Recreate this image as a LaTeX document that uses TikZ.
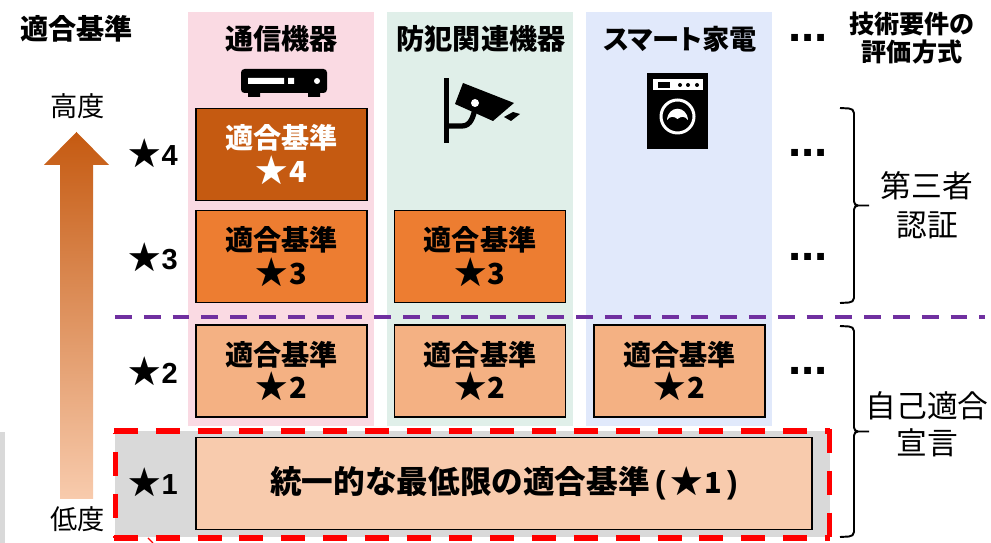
\documentclass[tikz,border=0pt]{standalone}
\usepackage{fontspec}
\setmainfont{Liberation Sans}
\newfontfamily\cjk{Noto Sans CJK JP}
\definecolor{pinkcol}{HTML}{FADAE3}
\definecolor{greencol}{HTML}{E0EFE9}
\definecolor{bluecol}{HTML}{E1E9FB}
\definecolor{levelfour}{HTML}{C55A11}
\definecolor{levelthree}{HTML}{ED7D31}
\definecolor{leveltwo}{HTML}{F4B183}
\definecolor{levelone}{HTML}{F8CBAD}
\definecolor{graypanel}{HTML}{D9D9D9}
\definecolor{purpleline}{HTML}{7030A0}
\newcommand{\lvl}[1]{{\cjk\fontsize{18.5}{19.3}\selectfont ★}{\fontsize{16.5}{19.3}\selectfont\hspace{0.5pt}#1}}
\tikzset{
	boldtext/.style={inner sep=0pt,font=\fontsize{16}{19.3}\selectfont\bfseries\cjk,align=center},
	plaintext/.style={inner sep=0pt,font=\fontsize{17.5}{22}\selectfont\cjk,align=center},
	levelbox/.style={draw=black,line width=1.1pt,inner sep=0pt,minimum width=3.42cm,minimum height=1.84cm,
		font=\fontsize{16}{19.3}\selectfont\bfseries\cjk,align=center},
	leveltag/.style={inner sep=0pt,font=\fontsize{16}{19.3}\selectfont\bfseries},
	moredots/.style={inner sep=0pt,font=\fontsize{27}{27}\selectfont\bfseries},
	reddash/.style={red,line width=3.1pt,dash pattern=on 13.6pt off 10.2pt}
}
\begin{document}
\begin{tikzpicture}[x=0.02cm,y=-0.02cm]
	\useasboundingbox (0,0) rectangle (991,543);
	% columns
	\foreach \x/\c in {188/pinkcol,387/greencol,586/bluecol}
		\fill[\c] (\x,12) rectangle (\x+186,426);
	% grey band
	\fill[graypanel] (0,432) rectangle (5,543);
	\fill[graypanel] (115,431) rectangle (830,537);
	% height arrow
	\shade[top color=levelfour,bottom color=levelone] (76.5,132) -- (109,165) -- (93,165) -- (93,499) -- (60,499) -- (60,165) -- (44,165) -- cycle;
	\node[plaintext,font=\fontsize{15.5}{19}\selectfont\cjk] (high) at (77.5,106) {高度};
	\node[plaintext,font=\fontsize{15.5}{19}\selectfont\cjk] (low) at (77.5,519) {低度};
	\node[boldtext] (title) at (76.5,29) {適合基準};
	% column heads
	\node[boldtext] (comm) at (281.5,39) {通信機器};
	\node[boldtext] (sec) at (481,39) {防犯関連機器};
	\node[boldtext,font=\fontsize{15.5}{19.3}\selectfont\bfseries\cjk\addfontfeature{RawFeature=+palt}] (home) at (680,39) {スマート家電};
	\node[boldtext,font=\fontsize{14.3}{16.4}\selectfont\bfseries\cjk] (method) at (912,38) {技術要件の\\評価方式};
	% level tags
	\foreach \n/\y in {4/153,3/257,2/371,1/482}
		\node[leveltag] (tag\n) at (153,\y) {\lvl{\n}};
	% level boxes
	\node[levelbox,fill=levelfour,text=white] (c4) at (281.5,154.5) {適合基準\\\lvl{4}};
	\node[levelbox,fill=levelthree] (c3) at (281.5,256.5) {適合基準\\\lvl{3}};
	\node[levelbox,fill=levelthree] (s3) at (480,256.5) {適合基準\\\lvl{3}};
	\foreach \x/\m in {281.5/c2,480/s2,679.5/h2}
		\node[levelbox,fill=leveltwo] (\m) at (\x,371) {適合基準\\\lvl{2}};
	\node[levelbox,fill=levelone,minimum width=12.32cm,font=\fontsize{18}{20}\selectfont\bfseries\cjk] (all) at (504,483.5) {統一的な最低限の適合基準{\rmfamily\bfseries\,(\,}\lvl{1}{\rmfamily\bfseries\,)}};
	% dots
	\foreach \y in {38,153,257,371}
		\node[moredots] (dots\y) at (808,\y) {...};
	% separators
	\draw[purpleline,line width=2.2pt,dash pattern=on 9.6pt off 6.8pt] (115,317) -- (985,317);
	\draw[reddash] (114,431) -- (830,431) (114,538) -- (830,538) (829.5,429) -- (829.5,540);
	\draw[reddash,dash phase=13pt] (115.5,433) -- (115.5,538);
	\draw[red,line width=0.8pt] (148,538) -- (153,543);
	% braces
	\foreach \t/\b/\n in {108/303/up,326/537/down} {
		\coordinate (\n a) at (840,\t);
		\coordinate (\n b) at (840,\b);
		\coordinate (\n m) at (869,{(\t+\b)/2});
		\draw[line width=1.1pt] (\n a) -- (849,\t+0.5) to[out=0,in=90] (854,\t+5) -- (854,{(\t+\b)/2-4}) to[out=-90,in=180] (858,{(\t+\b)/2}) -- (\n m)
			(858,{(\t+\b)/2}) to[out=180,in=90] (854,{(\t+\b)/2+4}) -- (854,\b-5) to[out=-90,in=0] (849,\b-0.5) -- (\n b);
	}
	\node[plaintext] (third) at (927,205) {第三者\\認証};
	\node[plaintext,font=\fontsize{17.5}{21}\selectfont\cjk] (self) at (927,424) {自己適合\\宣言};
	% router icon
	\fill[black,rounded corners=2pt] (241,69) rectangle (327,93);
	\fill[black] (248,90) rectangle (260,97) (308,90) rectangle (320,97);
	\fill[white] (248,78) rectangle (284,84) (288,78) rectangle (294,84) (317,81) circle (3);
	% camera icon
	\fill[black] (444,78) rectangle (449,143);
	\fill[black] (463,83) -- (514,103) -- (493,121) -- (455,104) -- cycle;
	\fill[black] (513,112) -- (520,114) -- (511,121) -- (504,117) -- cycle;
	\draw[black,line width=3pt] (449,126) -- (462,126) to[out=0,in=-100] (475,108);
	\fill[white] (475,103) circle (4);
	% washer icon
	\fill[black] (647,73) rectangle (708,149);
	\fill[white] (653,79) rectangle (703,90);
	\fill[black] (658,82) rectangle (670,88);
	\foreach \x in {680,688,697}
		\fill[black] (\x,85) circle (2);
	\draw[white,line width=1.7pt] (677.5,116.5) circle (16.5);
	\fill[white] (667,120) .. controls (668,105) and (687,105) .. (688,120) .. controls (685,116) and (681,116) .. (677.5,119) .. controls (674,116) and (670,116) .. (667,120) -- cycle;
\end{tikzpicture}
\end{document}
